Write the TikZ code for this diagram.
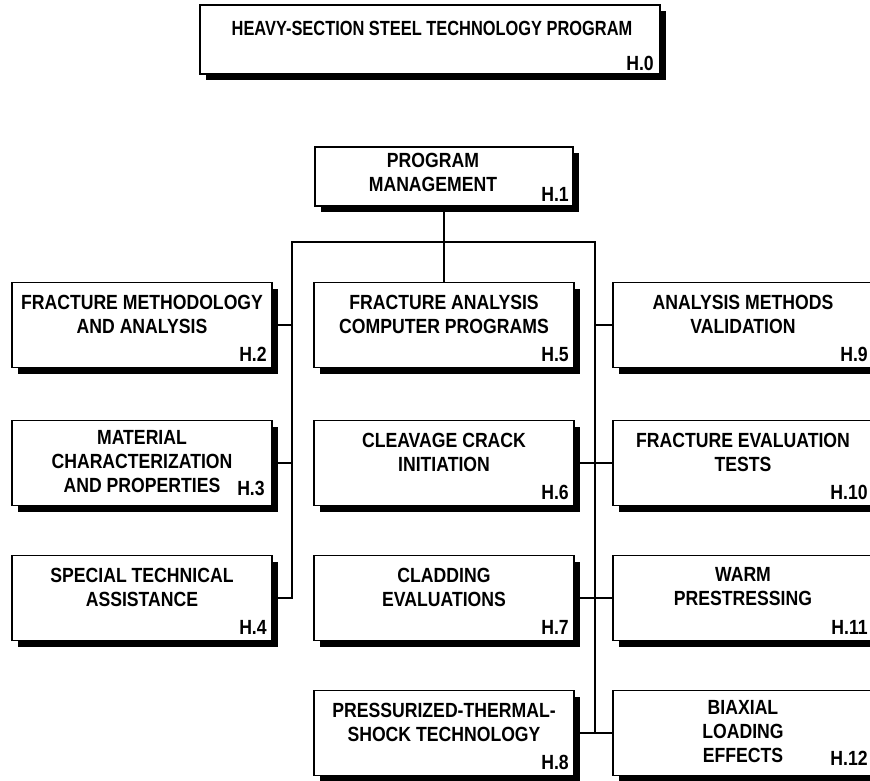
\documentclass[tikz,border=0pt]{standalone}
\usepackage{fontspec}
\newfontfamily\chartfont{Liberation Sans}[FakeStretch=0.86]
\newfontfamily\headfont{Liberation Sans}[FakeStretch=0.8]
\usetikzlibrary{shadows,calc}
\tikzset{
  unitbox/.style={draw, line width=1.8pt, fill=white, inner sep=0pt,
    minimum width=260pt, minimum height=85pt,
    drop shadow={shadow xshift=6pt, shadow yshift=-6pt, opacity=1, fill=black}},
  boxtext/.style={font=\chartfont\bfseries\fontsize{20.5}{24}\selectfont,
    align=center, inner sep=0pt, anchor=north},
  code/.style={font=\chartfont\bfseries\fontsize{20.5}{24}\selectfont,
    inner sep=0pt, anchor=base east},
  wire/.style={line width=2.6pt}
}
\begin{document}
\begin{tikzpicture}[x=1pt,y=-1pt]
\useasboundingbox (0,0) rectangle (870,780);
\clip (0,0) rectangle (870,780);

% top level
\node[unitbox, minimum width=460pt, minimum height=69pt] (h0) at (430,39.5) {};
\node[boxtext, font=\headfont\bfseries\fontsize{20.5}{24}\selectfont] (t0)
  at ($(h0.north)+(2,17)$) {HEAVY-SECTION STEEL TECHNOLOGY PROGRAM};
\node[code] (c0) at ($(h0.south east)+(-7,-4)$) {H.0};

% management
\node[unitbox, minimum width=258pt, minimum height=59pt] (h1) at (444,176.5) {};
\node[boxtext] (t1) at ($(h1.north)+(-11,7)$) {PROGRAM\\MANAGEMENT};
\node[code] (c1) at ($(h1.south east)+(-5,-5)$) {H.1};

% left column
\node[unitbox] (h2) at (142,325) {};
\node[unitbox] (h3) at (142,463) {};
\node[unitbox] (h4) at (142,598) {};
% middle column
\node[unitbox] (h5) at (444,325) {};
\node[unitbox] (h6) at (444,463) {};
\node[unitbox] (h7) at (444,598) {};
\node[unitbox] (h8) at (444,733) {};
% right column
\node[unitbox] (h9) at (743,325) {};
\node[unitbox] (h10) at (743,463) {};
\node[unitbox] (h11) at (743,598) {};
\node[unitbox] (h12) at (743,733) {};

% box texts
\node[boxtext] (t2) at ($(h2.north)+(0,13)$) {FRACTURE METHODOLOGY\\AND ANALYSIS};
\node[code] (c2) at ($(h2.south east)+(-6,-7)$) {H.2};
\node[boxtext] (t3) at ($(h3.north)+(0,11)$) {MATERIAL\\CHARACTERIZATION\\AND PROPERTIES};
\node[code] (c3) at ($(h3.south east)+(-8,-11)$) {H.3};
\node[boxtext] (t4) at ($(h4.north)+(0,13)$) {SPECIAL TECHNICAL\\ASSISTANCE};
\node[code] (c4) at ($(h4.south east)+(-6,-7)$) {H.4};

\node[boxtext] (t5) at ($(h5.north)+(0,13)$) {FRACTURE ANALYSIS\\COMPUTER PROGRAMS};
\node[code] (c5) at ($(h5.south east)+(-6,-7)$) {H.5};
\node[boxtext] (t6) at ($(h6.north)+(0,13)$) {CLEAVAGE CRACK\\INITIATION};
\node[code] (c6) at ($(h6.south east)+(-6,-7)$) {H.6};
\node[boxtext] (t7) at ($(h7.north)+(0,13)$) {CLADDING\\EVALUATIONS};
\node[code] (c7) at ($(h7.south east)+(-6,-7)$) {H.7};
\node[boxtext] (t8) at ($(h8.north)+(0,13)$) {PRESSURIZED-THERMAL-\\SHOCK TECHNOLOGY};
\node[code] (c8) at ($(h8.south east)+(-6,-7)$) {H.8};

\node[boxtext] (t9) at ($(h9.north)+(0,13)$) {ANALYSIS METHODS\\VALIDATION};
\node[code] (c9) at ($(h9.south east)+(-6,-7)$) {H.9};
\node[boxtext] (t10) at ($(h10.north)+(0,13)$) {FRACTURE EVALUATION\\TESTS};
\node[code] (c10) at ($(h10.south east)+(-6,-7)$) {H.10};
\node[boxtext] (t11) at ($(h11.north)+(0,13)$) {WARM\\PRESTRESSING};
\node[code] (c11) at ($(h11.south east)+(-6,-7)$) {H.11};
\node[boxtext] (t12) at ($(h12.north)+(0,11)$) {BIAXIAL\\LOADING\\EFFECTS};
\node[code] (c12) at ($(h12.south east)+(-6,-11)$) {H.12};

% distribution bus
\coordinate (jl) at (292,242);
\coordinate (jr) at (595,242);
\draw[wire] (h1.south) -- (h5.north);
\draw[wire] (h4.east) -| (jl) -- (jr) |- (h12.west);
\draw[wire] (h2.east) -- (h2.east -| jl);
\draw[wire] (h3.east) -- (h3.east -| jl);
\draw[wire] (h9.west) -- (h9.west -| jr);
\draw[wire] (h6.east) -- (h10.west);
\draw[wire] (h7.east) -- (h11.west);
\draw[wire] (h8.east) -- (h8.east -| jr);
\end{tikzpicture}
\end{document}
